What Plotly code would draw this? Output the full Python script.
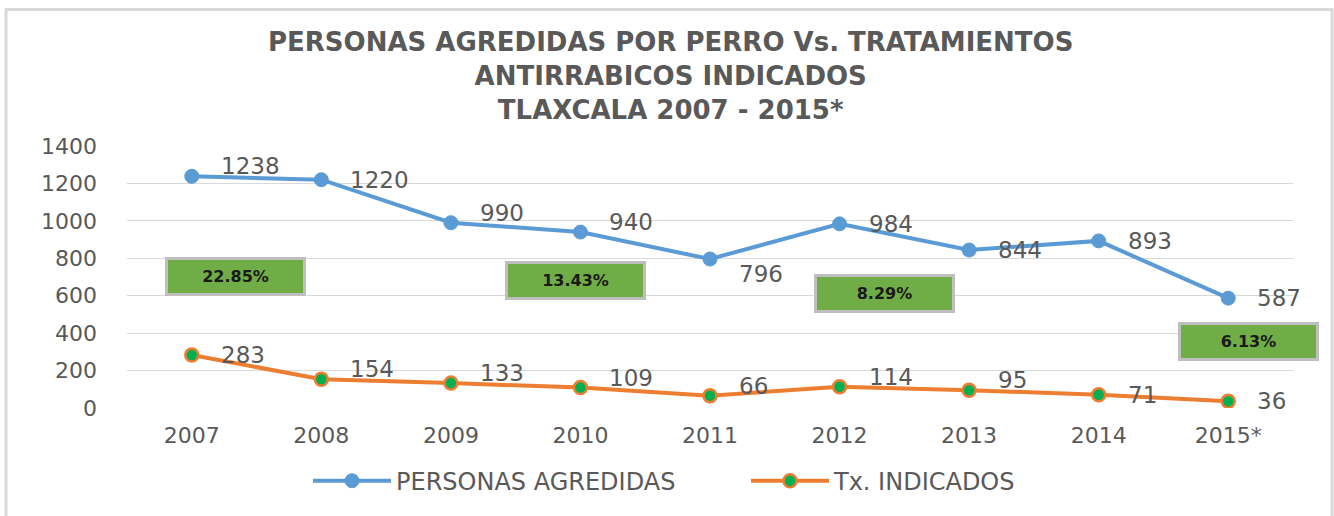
import plotly.graph_objects as go

years = ["2007", "2008", "2009", "2010", "2011", "2012", "2013", "2014", "2015*"]
personas = [1238, 1220, 990, 940, 796, 984, 844, 893, 587]
tx = [283, 154, 133, 109, 66, 114, 95, 71, 36]

# label placement relative to the point: "up", "mid", "down"
personas_place = ["up", "mid", "up", "up", "down", "mid", "mid", "mid", "mid"]
tx_place = ["mid", "up", "up", "up", "up", "up", "up", "mid", "mid"]
shift = {"up": 10, "mid": 0, "down": -15}

pct_labels = ["22.85%", "13.43%", "8.29%", "6.13%"]
pct_x = [0.34, 2.96, 5.35, 8.16]
pct_y = [704, 683, 614, 354]

title_lines = ["PERSONAS AGREDIDAS POR PERRO Vs. TRATAMIENTOS",
               "ANTIRRABICOS INDICADOS",
               "TLAXCALA 2007 - 2015*"]

GRAY = "#595959"
BLUE = "#5B9BD5"
ORANGE = "#ED7D31"
GREEN = "#00B050"
FONT = "DejaVu Sans"

# plot-area geometry in pixels (for paper-coordinate conversions)
PL, PW, PB, PH = 127, 1166, 411, 265
def px(x):
    return (x - PL) / PW
def py(y):
    return (PB - y) / PH

fig = go.Figure()
fig.add_trace(go.Scatter(
    x=years, y=personas, mode="lines+markers", name="PERSONAS AGREDIDAS",
    line=dict(color=BLUE, width=4),
    marker=dict(color=BLUE, size=14, line=dict(color=BLUE, width=1)),
))
fig.add_trace(go.Scatter(
    x=years, y=tx, mode="lines+markers", name="Tx. INDICADOS",
    line=dict(color=ORANGE, width=4),
    marker=dict(color=GREEN, size=13, line=dict(color=ORANGE, width=2.5)),
))

anns = []
for series, places in ((personas, personas_place), (tx, tx_place)):
    for i, (v, p) in enumerate(zip(series, places)):
        anns.append(dict(
            x=i, y=v, xref="x", yref="y", text=str(v), showarrow=False,
            xanchor="left", yanchor="middle", xshift=27, yshift=shift[p],
            font=dict(family=FONT, size=23, color=GRAY),
        ))

for t, x, y in zip(pct_labels, pct_x, pct_y):
    anns.append(dict(
        x=x, y=y, xref="x", yref="y", text="<b>" + t + "</b>", showarrow=False,
        xanchor="center", yanchor="middle",
        bgcolor="#70AD47", bordercolor="#BFBFBF", borderwidth=3, borderpad=0,
        width=135, height=33,
        font=dict(family=FONT, size=16, color="#1a1a1a"),
    ))

anns.append(dict(
    x=px(670), y=py(75), xref="paper", yref="paper",
    text="<br>".join("<b>" + l + "</b>" for l in title_lines), showarrow=False,
    xanchor="center", yanchor="middle", align="center",
    font=dict(family=FONT, size=26, color=GRAY),
))

fig.update_layout(
    width=1334, height=516,
    margin=dict(l=127, r=41, t=146, b=105),
    paper_bgcolor="white", plot_bgcolor="white",
    font=dict(family=FONT, color=GRAY),
    xaxis=dict(
        type="category", range=[-0.5, 8.5], showgrid=False, zeroline=False,
        showline=False, ticks="", tickfont=dict(size=22, color=GRAY),
        ticklabelstandoff=12,
    ),
    yaxis=dict(
        range=[0, 1400], dtick=200, showgrid=True, gridcolor="#D9D9D9",
        gridwidth=1, zeroline=False, showline=False, ticks="",
        tickfont=dict(size=22, color=GRAY), ticklabelstandoff=29,
    ),
    legend=dict(
        orientation="h", x=px(308), xanchor="left",
        y=py(485), yanchor="middle",
        font=dict(size=24, color=GRAY), itemwidth=78,
        entrywidth=345, entrywidthmode="pixels",
    ),
    annotations=anns,
    shapes=[dict(
        type="rect", xref="paper", yref="paper",
        x0=px(6), x1=px(1332), y0=py(530), y1=py(8),
        line=dict(color="#D9D9D9", width=3), layer="below",
    )],
)

fig.write_html("out.html", config={"displayModeBar": False},
               post_script="document.body.style.margin='0';document.body.style.overflow='hidden';")
